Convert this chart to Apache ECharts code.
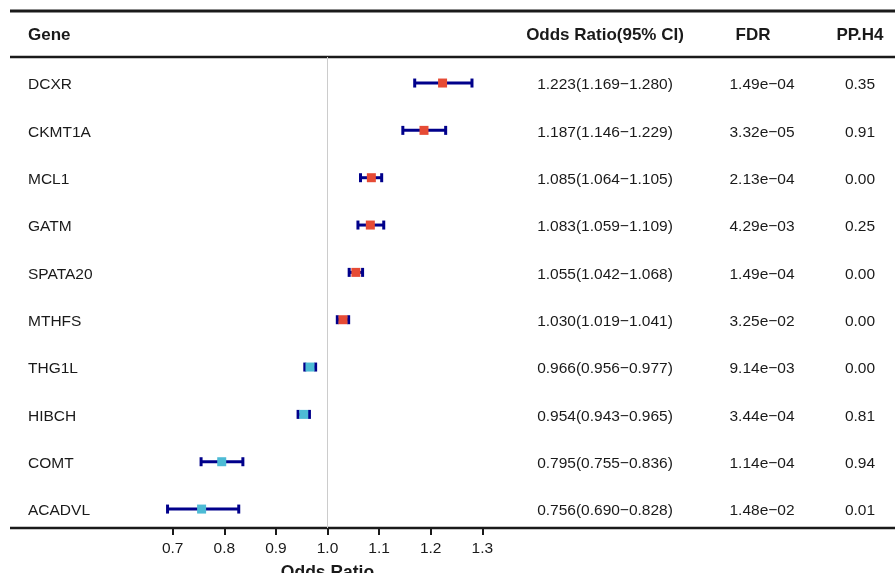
<!DOCTYPE html>
<html>
<head>
<meta charset="utf-8">
<script src="https://cdn.jsdelivr.net/npm/echarts@6/dist/echarts.min.js"></script>
<style>
  html, body { margin: 0; padding: 0; background: #fff; }
  #forest { width: 895px; height: 573px; }
</style>
</head>
<body>
<div id="forest"></div>
<script>
// forest plot data, top row first
var genes = ['DCXR', 'CKMT1A', 'MCL1', 'GATM', 'SPATA20', 'MTHFS', 'THG1L', 'HIBCH', 'COMT', 'ACADVL'];
var oddsRatio = [1.223, 1.187, 1.085, 1.083, 1.055, 1.030, 0.966, 0.954, 0.795, 0.756];
var ciLower = [1.169, 1.146, 1.064, 1.059, 1.042, 1.019, 0.956, 0.943, 0.755, 0.690];
var ciUpper = [1.280, 1.229, 1.105, 1.109, 1.068, 1.041, 0.977, 0.965, 0.836, 0.828];
var fdr = ['1.49e\u221204', '3.32e\u221205', '2.13e\u221204', '4.29e\u221203', '1.49e\u221204',
           '3.25e\u221202', '9.14e\u221203', '3.44e\u221204', '1.14e\u221204', '1.48e\u221202'];
var ppH4 = ['0.35', '0.91', '0.00', '0.25', '0.00', '0.00', '0.00', '0.81', '0.94', '0.01'];
var xTicks = [0.7, 0.8, 0.9, 1.0, 1.1, 1.2, 1.3];

var rowIdx = genes.map(function (g, i) { return i; });
var ciText = oddsRatio.map(function (v, i) {
    return v.toFixed(3) + '(' + ciLower[i].toFixed(3) + '\u2212' + ciUpper[i].toFixed(3) + ')';
});

var FONT = 'Liberation Sans, Arial, sans-serif';
var INK = '#1a1a1a';
var BAR = '#00008B';
var RED = '#E64B35';
var BLUE = '#4DBBD5';

var gridLeft = 172.7, gridRight = 482.3;
var textNudge = 0.04; // pushes the text rows ~2px down so they sit level with the markers

// one hidden y axis per table column, its labels are the column text
function textAxis(pos, offset, labels, name, align, namePad) {
    return {
        type: 'value',
        inverse: true,
        min: -0.55 - textNudge,
        max: 9.4 - textNudge,
        position: pos,
        offset: offset,
        axisLine: { show: false },
        axisTick: { show: false },
        splitLine: { show: false },
        axisLabel: {
            customValues: rowIdx,
            formatter: function (v) { return labels[Math.round(v)]; },
            align: align,
            margin: 0,
            color: INK,
            fontFamily: FONT,
            fontSize: 15.5
        },
        name: name,
        nameLocation: 'start',
        nameGap: 22,
        nameTextStyle: {
            color: INK, fontFamily: FONT, fontSize: 17, fontWeight: 'bold',
            align: align, verticalAlign: 'middle', padding: namePad || [2, 0, 0, 0]
        }
    };
}

var myChart = echarts.init(document.getElementById('forest'));

var option = {
    backgroundColor: '#fff',
    animation: false,
    grid: {
        left: gridLeft, right: 895 - gridRight, top: 57, height: 471,
        containLabel: false, outerBoundsMode: 'none'
    },
    xAxis: {
        type: 'value',
        min: 0.7,
        max: 1.3,
        interval: 0.1,
        axisLine: { show: false, onZero: false },
        axisTick: { show: true, length: 7, lineStyle: { color: INK, width: 2 } },
        splitLine: { show: false },
        axisLabel: {
            color: INK, fontFamily: FONT, fontSize: 15.5, margin: 13,
            formatter: function (v) { return v.toFixed(1); }
        },
        name: 'Odds Ratio',
        nameLocation: 'middle',
        nameGap: 36,
        nameTextStyle: { color: INK, fontFamily: FONT, fontSize: 17.5, fontWeight: 'bold' }
    },
    yAxis: [
        textAxis('left', gridLeft - 28, genes, 'Gene', 'left'),
        textAxis('right', 605 - gridRight, ciText, 'Odds Ratio(95% CI)', 'center'),
        textAxis('right', 762 - gridRight, fdr, 'FDR', 'center', [2, 18, 0, 0]),
        textAxis('right', 860 - gridRight, ppH4, 'PP.H4', 'center'),
        {
            // axis for the marks
            type: 'value', inverse: true, min: -0.55, max: 9.4, show: false
        }
    ],
    graphic: [
        { type: 'line', shape: { x1: 10, y1: 11, x2: 895, y2: 11 }, style: { stroke: INK, lineWidth: 3 } },
        { type: 'line', shape: { x1: 10, y1: 57, x2: 895, y2: 57 }, style: { stroke: INK, lineWidth: 2.5 } },
        { type: 'line', shape: { x1: 10, y1: 528, x2: 895, y2: 528 }, style: { stroke: INK, lineWidth: 2.5 } }
    ],
    series: [
        {
            type: 'custom',
            name: 'CI',
            clip: false,
            yAxisIndex: 4,
            encode: { x: [0, 1], y: 2 },
            data: rowIdx.map(function (i) { return [ciLower[i], ciUpper[i], i]; }),
            renderItem: function (params, api) {
                var lo = api.coord([api.value(0), api.value(2)]);
                var hi = api.coord([api.value(1), api.value(2)]);
                var h = 4.5;
                var st = { stroke: BAR, lineWidth: 3 };
                return {
                    type: 'group',
                    children: [
                        { type: 'line', shape: { x1: lo[0], y1: lo[1], x2: hi[0], y2: hi[1] }, style: st },
                        { type: 'line', shape: { x1: lo[0], y1: lo[1] - h, x2: lo[0], y2: lo[1] + h }, style: st },
                        { type: 'line', shape: { x1: hi[0], y1: hi[1] - h, x2: hi[0], y2: hi[1] + h }, style: st }
                    ]
                };
            },
            z: 2
        },
        {
            type: 'scatter',
            name: 'OR',
            symbol: 'rect',
            symbolSize: 9,
            yAxisIndex: 4,
            data: rowIdx.map(function (i) { return [oddsRatio[i], i]; }),
            itemStyle: {
                opacity: 1,
                color: function (p) { return p.value[0] > 1 ? RED : BLUE; }
            },
            markLine: {
                silent: true,
                symbol: 'none',
                label: { show: false },
                lineStyle: { color: '#cccccc', width: 1, type: 'solid' },
                data: [{ xAxis: 1 }],
                z: 1
            },
            z: 3
        }
    ]
};

myChart.setOption(option);
</script>
</body>
</html>
